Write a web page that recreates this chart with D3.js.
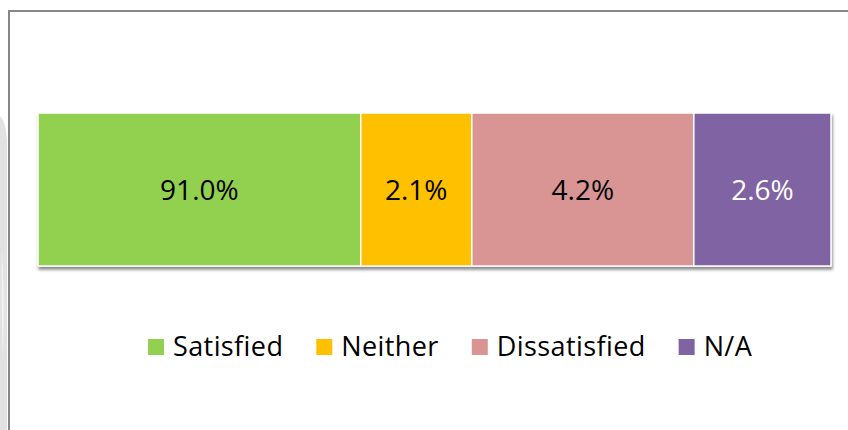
<!DOCTYPE html>
<html>
<head>
<meta charset="utf-8">
<script src="https://cdn.jsdelivr.net/npm/d3@7"></script>
<style>
  html, body { margin: 0; padding: 0; background: #fff; }
  #chart { width: 848px; height: 430px; }
</style>
</head>
<body>
<div id="chart"></div>
<script>
// categories and the percentages printed on the bar
var categories = ["Satisfied", "Neither", "Dissatisfied", "N/A"];
var values = [91.0, 2.1, 4.2, 2.6];
// width share of each segment as drawn in the picture (not proportional to the labels)
var shares = [40.7, 14.0, 28.0, 17.3];
var colors = ["#92d050", "#ffc000", "#d99594", "#8064a2"];
var labelColors = ["#000", "#000", "#000", "#fff"];

var W = 848, H = 430;
var svg = d3.select("#chart").append("svg")
    .attr("width", W)
    .attr("height", H);

// drop shadow under the bar
var defs = svg.append("defs");
var f = defs.append("filter").attr("id", "shadow")
    .attr("x", "-5%").attr("y", "-10%").attr("width", "110%").attr("height", "130%");
f.append("feDropShadow")
    .attr("dx", 1).attr("dy", 3)
    .attr("stdDeviation", 1.8)
    .attr("flood-color", "#000")
    .attr("flood-opacity", 0.45);

// grey strip on the far left
svg.append("path")
    .attr("d", "M0,116 Q6,122 7,140 L7,430 L0,430 Z")
    .attr("fill", "#e2e2e2");
svg.append("path")
    .attr("d", "M2,250 Q5,300 3,360 Q1,300 2,250 Z")
    .attr("fill", "#f2f2f2");

// frame
svg.append("path")
    .attr("d", "M9,432 L9,11 L850,11")
    .attr("fill", "none")
    .attr("stroke", "#878787")
    .attr("stroke-width", 2);

var x = d3.scaleLinear()
    .domain([0, d3.sum(shares)])
    .range([38, 831]);
var y = d3.scaleBand()
    .domain(["bar"])
    .range([113, 266]);

var stack = [];
var acc = 0;
shares.forEach(function(s, i) {
    stack.push({ name: categories[i], value: values[i], x0: acc, x1: acc + s, i: i });
    acc += s;
});

var g = svg.append("g").attr("filter", "url(#shadow)");
g.selectAll("rect")
    .data(stack)
    .enter()
    .append("rect")
    .attr("x", function(d) { return x(d.x0); })
    .attr("y", y("bar"))
    .attr("width", function(d) { return x(d.x1) - x(d.x0); })
    .attr("height", y.bandwidth())
    .attr("fill", function(d) { return colors[d.i]; })
    .attr("stroke", "#fff")
    .attr("stroke-width", 1.5);

svg.selectAll("text.lbl")
    .data(stack)
    .enter()
    .append("text")
    .attr("class", "lbl")
    .attr("x", function(d) { return (x(d.x0) + x(d.x1)) / 2; })
    .attr("y", y("bar") + y.bandwidth() / 2 + 10)
    .attr("text-anchor", "middle")
    .style("font-family", "'Open Sans', sans-serif")
    .style("font-size", "28px")
    .style("fill", function(d) { return labelColors[d.i]; })
    .text(function(d) { return d.value.toFixed(1) + "%"; });

// legend
var legend = svg.append("g");
var lx = 148, ly = 356;
categories.forEach(function(c, i) {
    legend.append("rect")
        .attr("x", lx)
        .attr("y", ly - 17)
        .attr("width", 16)
        .attr("height", 16)
        .attr("fill", colors[i]);
    var t = legend.append("text")
        .attr("x", lx + 25)
        .attr("y", ly)
        .style("font-family", "'Open Sans', sans-serif")
        .style("font-size", "27px")
        .style("letter-spacing", "0.4px")
        .style("fill", "#000")
        .text(c);
    lx = lx + 25 + t.node().getComputedTextLength() + 33;
});
</script>
</body>
</html>
